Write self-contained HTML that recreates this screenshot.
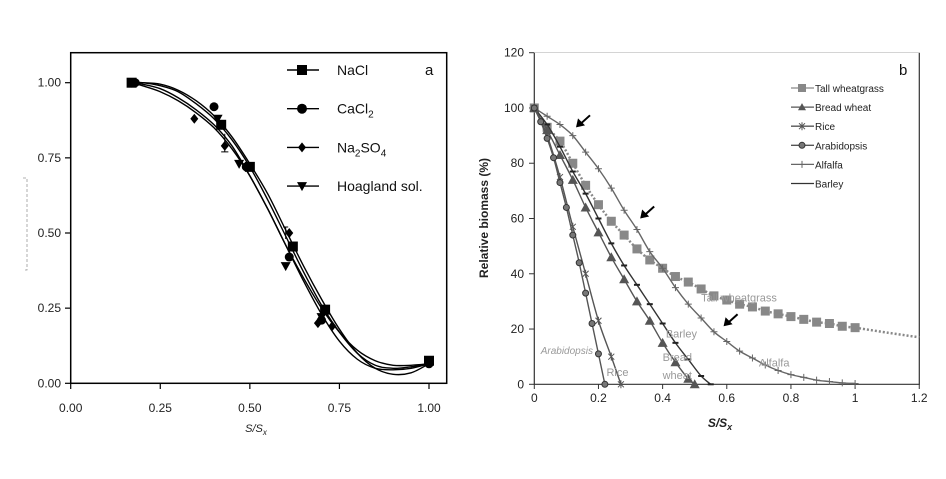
<!DOCTYPE html>
<html><head><meta charset="utf-8"><style>
body{margin:0;background:#fff;width:946px;height:479px;overflow:hidden}
svg{display:block;font-family:"Liberation Sans",Arial,sans-serif}
</style></head><body>
<svg id="svg" width="946" height="479"></svg>
<script>
// ---- Panel a data ----
const aCurveX=[0.17,0.2,0.25,0.3,0.35,0.4,0.45,0.5,0.55,0.6,0.65,0.7,0.75,0.8,0.85,0.9,0.95,1.0];
const aCurve1=[1.0,1.0,0.99,0.97,0.93,0.88,0.81,0.72,0.61,0.49,0.37,0.26,0.17,0.1,0.06,0.05,0.055,0.065];
const aCurve2=[1.0,0.995,0.98,0.95,0.91,0.86,0.79,0.69,0.58,0.46,0.34,0.23,0.14,0.08,0.05,0.045,0.05,0.065];
const aCurve3=[1.0,1.0,0.995,0.975,0.94,0.89,0.82,0.73,0.63,0.51,0.39,0.28,0.18,0.1,0.05,0.03,0.035,0.065];
const aCurve4=[1.0,0.99,0.97,0.94,0.9,0.85,0.78,0.69,0.58,0.46,0.35,0.25,0.17,0.11,0.075,0.06,0.06,0.065];
const naclX=[0.17,0.42,0.5,0.62,0.71,1.0], naclY=[1,0.86,0.72,0.455,0.245,0.075];
const caclX=[0.18,0.4,0.49,0.61,0.7,1.0], caclY=[1,0.92,0.72,0.42,0.21,0.065];
const naso4X=[0.345,0.43,0.61,0.69,0.73], naso4Y=[0.88,0.79,0.5,0.2,0.19];
const hoagX=[0.17,0.41,0.47,0.6,0.7,1.0], hoagY=[1,0.88,0.73,0.39,0.22,0.07];
const aTicks=["0.00","0.25","0.50","0.75","1.00"];
// ---- Panel b data ----
const twX=[0,0.04,0.08,0.12,0.16,0.2,0.24,0.28,0.32,0.36,0.4,0.44,0.48,0.52,0.56,0.6,0.64,0.68,0.72,0.76,0.8,0.84,0.88,0.92,0.96,1.0];
const twY=[100,93,88,80,72,65,59,54,49,45,42,39,37,34.5,32,30.5,29,28,26.5,25.5,24.5,23.5,22.5,22,21,20.5];
const twExtX=[1.0,1.1,1.2], twExtY=[20.5,18.7,17];
const alX=[0,0.04,0.08,0.12,0.16,0.2,0.24,0.28,0.32,0.36,0.4,0.44,0.48,0.52,0.56,0.6,0.64,0.68,0.72,0.76,0.8,0.84,0.88,0.92,0.96,1.0];
const alY=[100,97,94,90,84,78,71,63,56,48,42,35,29,24,19,15.5,12,9.5,7,5,3.5,2.5,1.5,1,0.5,0.3];
const bwX=[0,0.04,0.08,0.12,0.16,0.2,0.24,0.28,0.32,0.36,0.4,0.44,0.48,0.5];
const bwY=[100,92,83,74,64,55,46,38,30,23,15,8,2,0];
const baX=[0,0.04,0.08,0.12,0.16,0.2,0.24,0.28,0.32,0.36,0.4,0.44,0.48,0.52,0.55];
const baY=[100,94,86,77,69,60,51,43,36,29,22,15,9,3,0];
const arX=[0,0.02,0.04,0.06,0.08,0.1,0.12,0.14,0.16,0.18,0.2,0.22];
const arY=[100,95,89,82,73,64,54,44,33,22,11,0];
const riX=[0,0.04,0.08,0.12,0.16,0.2,0.24,0.27];
const riY=[100,90,75,57,40,23,10,0];
const bYTicks=[0,20,40,60,80,100,120];
const bXTicks=[0,0.2,0.4,0.6,0.8,1,1.2];

const NS="http://www.w3.org/2000/svg";
const svg=document.getElementById('svg');
function el(tag,attrs,parent,text){const e=document.createElementNS(NS,tag);for(const k in attrs)e.setAttribute(k,attrs[k]);if(text!==undefined)e.textContent=text;(parent||svg).appendChild(e);return e;}
function smooth(pts){let d=`M${pts[0][0]},${pts[0][1]}`;for(let i=0;i<pts.length-1;i++){const p0=pts[Math.max(0,i-1)],p1=pts[i],p2=pts[i+1],p3=pts[Math.min(pts.length-1,i+2)];d+=` C${p1[0]+(p2[0]-p0[0])/6},${p1[1]+(p2[1]-p0[1])/6} ${p2[0]-(p3[0]-p1[0])/6},${p2[1]-(p3[1]-p1[1])/6} ${p2[0]},${p2[1]}`;}return d;}

// Panel a scales
const ax=v=>70.7+v*358.3, ay=v=>383.3-v*300.6;
const ga=el('g',{});
let fr=el('rect',{x:70.7,y:52.7,width:376,height:330.6,fill:'none',stroke:'#000','stroke-width':1.5},ga);

aTicks.forEach((t,i)=>{const v=i*0.25;
 el('line',{x1:ax(v),x2:ax(v),y1:383.3,y2:389,stroke:'#000','stroke-width':1.2},ga);
 const tx=el('text',{x:ax(v),y:412,'font-size':12,'text-anchor':'middle',fill:'#222'},ga,t);
 
 el('line',{x1:65,x2:70.7,y1:ay(v),y2:ay(v),stroke:'#000','stroke-width':1.2},ga);
 const ty=el('text',{x:61,y:ay(v)+4,'font-size':12,'text-anchor':'end',fill:'#222'},ga,t);
 
});
[aCurve1,aCurve2,aCurve3,aCurve4].forEach(c=>{
 const p=el('path',{d:smooth(aCurveX.map((x,i)=>[ax(x),ay(c[i])])),fill:'none',stroke:'#000','stroke-width':1.4},ga);
 
});
function marker(g,type,x,y,s,fill){
 if(type==='sq')return el('rect',{x:x-s,y:y-s,width:2*s,height:2*s,fill},g);
 if(type==='ci')return el('circle',{cx:x,cy:y,r:s,fill},g);
 if(type==='di')return el('polygon',{points:`${x},${y-s} ${x+s*0.8},${y} ${x},${y+s} ${x-s*0.8},${y}`,fill},g);
 if(type==='tv')return el('polygon',{points:`${x-s},${y-s*0.8} ${x+s},${y-s*0.8} ${x},${y+s}`,fill},g);
 if(type==='tu')return el('polygon',{points:`${x-s},${y+s*0.8} ${x+s},${y+s*0.8} ${x},${y-s}`,fill},g);
}
[[naclX,naclY,'sq',5,'nacl'],[caclX,caclY,'ci',4.5,'cacl2'],[naso4X,naso4Y,'di',5,'na2so4'],[hoagX,hoagY,'tv',5,'hoagland']].forEach(s=>{
 s[0].forEach((x,i)=>{const m=marker(ga,s[2],ax(x),ay(s[1][i]),s[3],'#000');});
});
el('path',{d:`M${ax(0.43)},${ay(0.83)}V${ay(0.77)}M${ax(0.42)},${ay(0.77)}H${ax(0.44)}M${ax(0.6)},${ay(0.52)}V${ay(0.48)}M${ax(0.593)},${ay(0.52)}H${ax(0.607)}`,stroke:'#000','stroke-width':1,fill:'none'},ga);
const legA=[['sq','NaCl'],['ci','CaCl'],['di','Na'],['tv','Hoagland sol.']];
legA.forEach((l,i)=>{const y=70+i*38.7;
 const g=el('g',{},ga);
 el('line',{x1:287,x2:319,y1:y,y2:y,stroke:'#000','stroke-width':1.4},g);
 marker(g,l[0],302,y,5,'#000');
 const t=el('text',{x:337,y:y+5,'font-size':14,fill:'#111'},g);
 if(i===1){t.innerHTML='CaCl<tspan font-size="10" dy="4">2</tspan>';}
 else if(i===2){t.innerHTML='Na<tspan font-size="10" dy="4">2</tspan><tspan dy="-4">SO</tspan><tspan font-size="10" dy="4">4</tspan>';}
 else t.textContent=l[1];
});
let lab=el('text',{x:425,y:75,'font-size':15,fill:'#111'},ga,'a');
lab=el('text',{x:256,y:432,'font-size':11,'font-style':'italic','text-anchor':'middle',fill:'#222'},ga);lab.innerHTML='S/S<tspan font-size="8" dy="3">x</tspan>';

el('path',{d:'M23,178H27V270H23',fill:'none',stroke:'#999','stroke-width':0.8,'stroke-dasharray':'3,2'},ga);

// Panel b scales
const bx=v=>534.3+v*320.8, by=v=>384.3-v*2.7633;
const gb=el('g',{});
fr=el('path',{d:`M534.3,52.7V384.3H919.3V52.7`,fill:'none',stroke:'#333','stroke-width':1.2},gb);

el('line',{x1:534.3,x2:919.3,y1:52.7,y2:52.7,stroke:'#bbb','stroke-width':0.6},gb);
bYTicks.forEach(v=>{el('line',{x1:529,x2:534.3,y1:by(v),y2:by(v),stroke:'#333'},gb);
 const t=el('text',{x:524,y:by(v)+4,'font-size':12,'text-anchor':'end',fill:'#222'},gb,String(v));});
bXTicks.forEach(v=>{el('line',{x1:bx(v),x2:bx(v),y1:384.3,y2:389,stroke:'#333'},gb);
 const t=el('text',{x:bx(v),y:402,'font-size':12,'text-anchor':'middle',fill:'#222'},gb,String(v));});
function series(X,Y,color,dash,name,mk,ms){
 const g=el('g',{},gb);
 el('path',{d:smooth(X.map((x,i)=>[bx(x),by(Y[i])])),fill:'none',stroke:color,'stroke-width':dash?2.5:1.4,'stroke-dasharray':dash||'none'},g);
 if(mk)X.forEach((x,i)=>{const px=bx(x),py=by(Y[i]);
  if(mk==='x')el('path',{d:`M${px-3},${py-3}L${px+3},${py+3}M${px-3},${py+3}L${px+3},${py-3}M${px},${py-4}V${py+4}`,stroke:color,'stroke-width':1},g);
  else if(mk==='+')el('path',{d:`M${px-3.5},${py}H${px+3.5}M${px},${py-3.5}V${py+3.5}`,stroke:color,'stroke-width':1},g);
  else if(mk==='-')el('path',{d:`M${px-3},${py}H${px+3}`,stroke:'#222','stroke-width':2},g);
  else if(mk==='ci')el('circle',{cx:px,cy:py,r:3,fill:'#777',stroke:'#333','stroke-width':1},g);
  else marker(g,mk,px,py,ms,color);});
 return g;}
series(twExtX,twExtY,'#888','2,2','tall-wheatgrass-extension');
series(twX,twY,'#888','2,2','tall-wheatgrass','sq',4.5);
series(alX,alY,'#666',null,'alfalfa','+');
series(baX,baY,'#333',null,'barley','-');
series(bwX,bwY,'#555',null,'bread-wheat','tu',5);
series(riX,riY,'#555',null,'rice','x');
series(arX,arY,'#555',null,'arabidopsis','ci');
[[0.13,93],[0.33,60],[0.59,21]].forEach(a=>{const x=bx(a[0]),y=by(a[1]);
 const g=el('g',{},gb);
 el('line',{x1:x+14,y1:y-12,x2:x+4,y2:y-3,stroke:'#000','stroke-width':2},g);
 el('polygon',{points:`${x},${y} ${x+9},${y-2} ${x+2},${y-9}`,fill:'#000'},g);});
const inl=[['Tall wheatgrass',0.52,30],['Barley',0.41,17],['Bread',0.4,8.5],['wheat',0.4,2],['Rice',0.225,3],['Alfalfa',0.7,6.5]];
inl.forEach(l=>{const t=el('text',{x:bx(l[1]),y:by(l[2]),'font-size':11,fill:'#999'},gb,l[0]);});
let t=el('text',{x:bx(0.02),y:by(11),'font-size':10,'font-style':'italic',fill:'#999'},gb,'Arabidopsis');
const legB=[['sq','Tall wheatgrass','#888'],['tu','Bread wheat','#555'],['x','Rice','#555'],['ci','Arabidopsis','#555'],['+','Alfalfa','#666'],['-','Barley','#333']];
legB.forEach((l,i)=>{const y=88+i*19.1;
 const g=el('g',{},gb);
 el('line',{x1:791,x2:814,y1:y,y2:y,stroke:l[2],'stroke-width':1.3},g);
 const px=802;
 if(l[0]==='x')el('path',{d:`M${px-3},${y-3}L${px+3},${y+3}M${px-3},${y+3}L${px+3},${y-3}M${px},${y-4}V${y+4}`,stroke:l[2]},g);
 else if(l[0]==='+')el('path',{d:`M${px},${y-3.5}V${y+3.5}`,stroke:l[2]},g);
 else if(l[0]==='ci')el('circle',{cx:px,cy:y,r:3,fill:'#777',stroke:'#333'},g);
 else if(l[0]!=='-')marker(g,l[0],px,y,4,l[2]);
 el('text',{x:815,y:y+4,'font-size':10,fill:'#222'},g,l[1]);});
lab=el('text',{x:899,y:75,'font-size':15,fill:'#111'},gb,'b');
lab=el('text',{x:720,y:427,'font-size':12,'font-weight':'bold','font-style':'italic','text-anchor':'middle',fill:'#222'},gb);lab.innerHTML='S/S<tspan font-size="9" dy="3">x</tspan>';

lab=el('text',{x:0,y:0,'font-size':12,'font-weight':'bold','text-anchor':'middle',fill:'#222',transform:'translate(488,218) rotate(-90)'},gb,'Relative biomass (%)');

</script>
</body></html>
